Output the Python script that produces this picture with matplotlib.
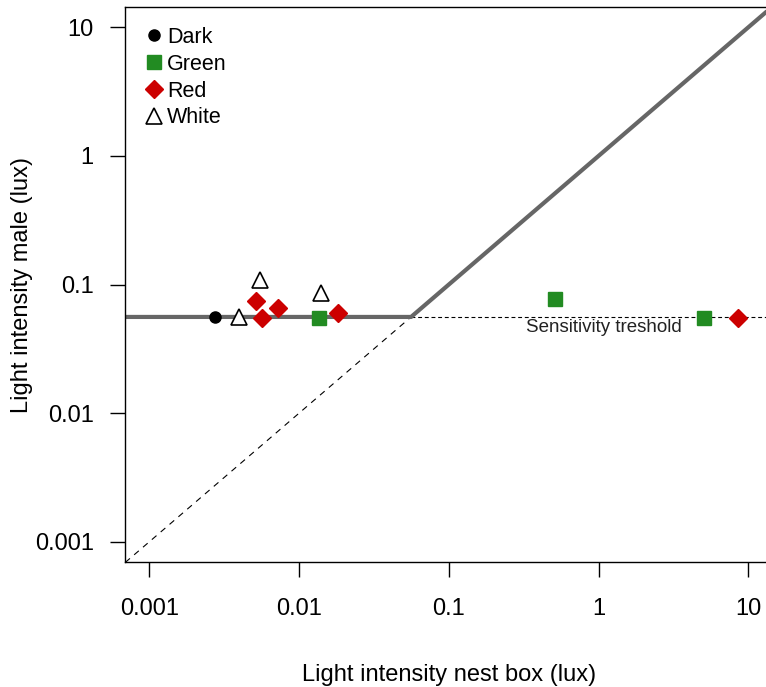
import numpy as np
import matplotlib
matplotlib.use('Agg')
import matplotlib.pyplot as plt

plt.rcParams['font.family'] = ['Liberation Sans', 'DejaVu Sans']

# light intensity readings (lux): nest box vs. male
dark_box = [0.00275]
dark_male = [0.0564]
green_box = [0.0136, 0.511, 5.07]
green_male = [0.0548, 0.0774, 0.0548]
red_box = [0.00513, 0.00568, 0.00726, 0.0183, 8.55]
red_male = [0.0747, 0.0548, 0.0655, 0.0606, 0.0548]
white_box = [0.00399, 0.00548, 0.0140]
white_male = [0.0555, 0.109, 0.0866]

threshold = 0.056
lims = (10**-3.16, 10**1.16)
ticks = [0.001, 0.01, 0.1, 1, 10]
ticklabels = ['0.001', '0.01', '0.1', '1', '10']

W, H = 766, 687
fig = plt.figure(figsize=(W/100, H/100), dpi=100)
# right edge of the plot region lies outside the picture (cropped)
ax = fig.add_axes([125.3/W, 1-562.4/H, 647/W, 555.7/H])
ax.set_xscale('log')
ax.set_yscale('log')
ax.set_xlim(lims)
ax.set_ylim(lims)

# detection model: 1:1 above threshold, flat below
ax.plot([lims[0], threshold], [lims[0], threshold], color='black', lw=0.8,
        linestyle=(0, (5.5, 5)))
ax.plot([threshold, lims[1]], [threshold, threshold], color='black', lw=0.8,
        linestyle=(0, (3.5, 2.5)))
ax.plot([lims[0], threshold, lims[1]], [threshold, threshold, lims[1]],
        color='#666666', lw=3, solid_capstyle='butt')

ax.plot(dark_box, dark_male, 'o', color='black', ms=8, label='Dark')
ax.plot(green_box, green_male, 's', color='#228B22', ms=10, label='Green')
ax.plot(red_box, red_male, 'D', color='#CC0000', ms=9.2, label='Red')
ax.plot(white_box, white_male, '^', mfc='white', mec='black', mew=1.2, ms=11,
        label='White')

ax.text(1.08, 0.0463, 'Sensitivity treshold', fontsize=13.5, ha='center',
        va='center', color='#222222')

ax.set_xticks(ticks)
ax.set_xticklabels(ticklabels)
ax.set_yticks(ticks)
ax.set_yticklabels(ticklabels)
ax.minorticks_off()
ax.tick_params(direction='out', length=10.8, width=1, labelsize=17, pad=12)
ax.tick_params(axis='x', pad=15)
for s in ax.spines.values():
    s.set_linewidth(1)
ax.spines['right'].set_visible(False)

ax.set_xlabel('Light intensity nest box (lux)', fontsize=17)
ax.set_ylabel('Light intensity male (lux)', fontsize=17)
ax.xaxis.set_label_coords(0.5, -0.182)
ax.yaxis.set_label_coords(-0.143, 0.5)

ax.legend(loc='upper left', bbox_to_anchor=(148/W, 1-27/H),
          bbox_transform=fig.transFigure, frameon=False, fontsize=15.5,
          handlelength=0.6, handletextpad=0.3, labelspacing=0.27,
          borderpad=0, borderaxespad=0)

plt.savefig('out.png', dpi=100)
plt.close()
